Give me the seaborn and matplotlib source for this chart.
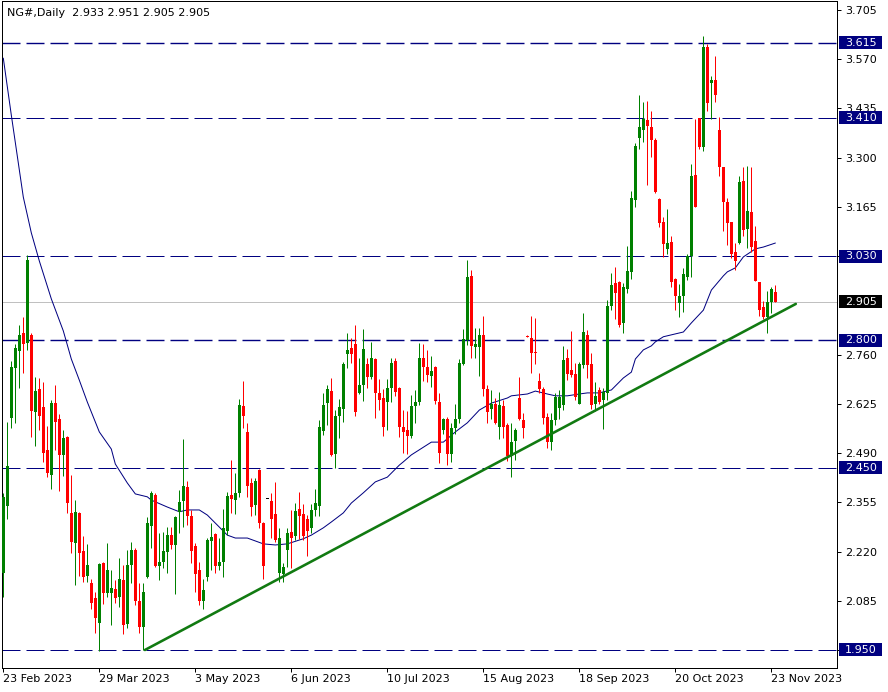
import numpy as np
import pandas as pd
import matplotlib
matplotlib.use('Agg')
import matplotlib.pyplot as plt
import matplotlib.transforms as mtransforms
from matplotlib.patches import Rectangle
import seaborn as sns

# Daily bars NG#, 23 Feb 2023 -> 24 Nov 2023
opens = [
    2.161, 2.345, 2.586, 2.723, 2.770, 2.819, 2.792, 2.814, 2.603, 2.666,
    2.616, 2.498, 2.430, 2.627, 2.583, 2.485, 2.534, 2.326, 2.243, 2.326,
    2.221, 2.153, 2.134, 2.093, 2.024, 2.189, 2.106, 2.106, 2.117, 2.095,
    2.142, 2.021, 2.183, 2.224, 2.084, 2.013, 2.150, 2.290, 2.375, 2.180,
    2.191, 2.219, 2.265, 2.238, 2.328, 2.359, 2.397, 2.317, 2.235, 2.169,
    2.084, 2.150, 2.249, 2.268, 2.180, 2.191, 2.276, 2.375, 2.361, 2.380,
    2.619, 2.548, 2.408, 2.348, 2.443, 2.298, 2.364, 2.359, 2.323, 2.161,
    2.158, 2.224, 2.274, 2.263, 2.337, 2.323, 2.309, 2.285, 2.334, 2.345,
    2.550, 2.627, 2.660, 2.487, 2.592, 2.611, 2.762, 2.778, 2.789, 2.655,
    2.677, 2.734, 2.699, 2.748, 2.655, 2.641, 2.630, 2.669, 2.742, 2.669,
    2.561, 2.553, 2.537, 2.619, 2.630, 2.751, 2.726, 2.701, 2.726, 2.630,
    2.553, 2.583, 2.487, 2.559, 2.583, 2.734, 2.800, 2.976, 2.781, 2.781,
    2.814, 2.666, 2.611, 2.625, 2.561, 2.619, 2.567, 2.482, 2.523, 2.641,
    2.581, 2.810, 2.806, 2.768, 2.688, 2.666, 2.589, 2.520, 2.581, 2.614,
    2.622, 2.751, 2.718, 2.707, 2.625, 2.731, 2.814, 2.734, 2.625, 2.663,
    2.636, 2.655, 2.893, 2.956, 2.959, 2.847, 2.940, 2.986, 3.184, 3.354,
    3.376, 3.403, 3.384, 3.349, 3.187, 3.124, 3.050, 3.069, 2.967, 2.901,
    2.921, 2.973, 3.030, 3.253, 3.409, 3.329, 3.604, 3.505, 3.513, 3.376,
    3.274, 3.178, 3.124, 3.041, 3.066, 3.236, 3.104, 3.151, 3.071, 2.959,
    2.890, 2.863, 2.904, 2.933,
]
highs = [
    2.381, 2.575, 2.742, 2.789, 2.841, 2.863, 3.033, 2.818, 2.699, 2.696,
    2.685, 2.564, 2.636, 2.677, 2.597, 2.553, 2.537, 2.430, 2.361, 2.328,
    2.263, 2.241, 2.145, 2.109, 2.189, 2.191, 2.243, 2.169, 2.142, 2.202,
    2.183, 2.224, 2.246, 2.230, 2.134, 2.134, 2.315, 2.386, 2.381, 2.271,
    2.274, 2.287, 2.287, 2.318, 2.389, 2.529, 2.413, 2.334, 2.243, 2.191,
    2.145, 2.257, 2.298, 2.271, 2.257, 2.337, 2.383, 2.471, 2.435, 2.638,
    2.688, 2.572, 2.422, 2.422, 2.446, 2.301, 2.364, 2.381, 2.411, 2.285,
    2.189, 2.285, 2.334, 2.353, 2.383, 2.350, 2.320, 2.350, 2.391, 2.581,
    2.655, 2.677, 2.696, 2.608, 2.638, 2.740, 2.819, 2.806, 2.841, 2.751,
    2.830, 2.751, 2.795, 2.751, 2.693, 2.666, 2.693, 2.751, 2.751, 2.672,
    2.608, 2.605, 2.649, 2.663, 2.792, 2.789, 2.773, 2.756, 2.729, 2.655,
    2.586, 2.589, 2.572, 2.625, 2.748, 2.830, 3.020, 2.992, 2.833, 2.833,
    2.866, 2.677, 2.663, 2.641, 2.658, 2.636, 2.572, 2.572, 2.559, 2.699,
    2.600, 2.814, 2.866, 2.860, 2.710, 2.671, 2.600, 2.600, 2.655, 2.663,
    2.784, 2.775, 2.825, 2.737, 2.740, 2.874, 2.828, 2.764, 2.685, 2.671,
    2.669, 2.910, 2.984, 3.000, 2.962, 2.956, 3.058, 3.209, 3.340, 3.472,
    3.453, 3.455, 3.428, 3.354, 3.189, 3.137, 3.159, 3.085, 2.970, 2.954,
    2.997, 3.036, 3.283, 3.406, 3.409, 3.634, 3.612, 3.524, 3.579, 3.412,
    3.274, 3.189, 3.124, 3.066, 3.250, 3.274, 3.277, 3.274, 3.113, 2.959,
    2.907, 2.934, 2.945, 2.951,
]
lows = [
    2.095, 2.309, 2.559, 2.572, 2.668, 2.709, 2.773, 2.534, 2.509, 2.553,
    2.465, 2.424, 2.391, 2.498, 2.386, 2.427, 2.326, 2.216, 2.128, 2.153,
    2.136, 2.136, 2.062, 1.997, 1.946, 2.076, 2.095, 2.019, 2.079, 2.068,
    1.994, 2.010, 2.134, 2.073, 1.997, 1.950, 2.147, 2.230, 2.178, 2.142,
    2.175, 2.161, 2.227, 2.103, 2.271, 2.287, 2.293, 2.189, 2.109, 2.073,
    2.062, 2.139, 2.169, 2.161, 2.169, 2.150, 2.265, 2.326, 2.323, 2.370,
    2.559, 2.370, 2.317, 2.320, 2.285, 2.145, 2.364, 2.257, 2.246, 2.136,
    2.136, 2.177, 2.175, 2.252, 2.254, 2.252, 2.208, 2.271, 2.317, 2.317,
    2.540, 2.567, 2.482, 2.449, 2.531, 2.575, 2.723, 2.737, 2.592, 2.652,
    2.633, 2.668, 2.693, 2.586, 2.608, 2.537, 2.553, 2.630, 2.647, 2.534,
    2.490, 2.487, 2.531, 2.572, 2.622, 2.688, 2.685, 2.671, 2.625, 2.463,
    2.542, 2.457, 2.465, 2.542, 2.572, 2.732, 2.786, 2.751, 2.751, 2.701,
    2.647, 2.572, 2.583, 2.570, 2.529, 2.531, 2.468, 2.424, 2.471, 2.581,
    2.531, 2.808, 2.709, 2.734, 2.655, 2.570, 2.504, 2.498, 2.567, 2.583,
    2.608, 2.690, 2.699, 2.636, 2.625, 2.723, 2.696, 2.611, 2.605, 2.625,
    2.556, 2.636, 2.882, 2.857, 2.836, 2.819, 2.929, 2.967, 3.165, 3.324,
    3.343, 3.225, 3.302, 3.203, 3.110, 3.027, 3.036, 2.945, 2.882, 2.863,
    2.877, 2.965, 2.973, 3.165, 3.324, 3.318, 3.428, 3.406, 3.453, 3.250,
    3.099, 3.060, 3.025, 2.992, 3.063, 3.085, 3.052, 3.041, 2.962, 2.866,
    2.857, 2.819, 2.874, 2.905,
]
closes = [
    2.370, 2.455, 2.726, 2.778, 2.814, 2.789, 3.020, 2.605, 2.660, 2.592,
    2.490, 2.435, 2.627, 2.575, 2.485, 2.531, 2.353, 2.246, 2.328, 2.216,
    2.150, 2.183, 2.079, 2.038, 2.186, 2.106, 2.169, 2.120, 2.093, 2.145,
    2.019, 2.183, 2.224, 2.084, 2.013, 2.109, 2.298, 2.381, 2.180, 2.191,
    2.221, 2.265, 2.238, 2.315, 2.356, 2.400, 2.317, 2.221, 2.158, 2.084,
    2.115, 2.252, 2.260, 2.180, 2.191, 2.285, 2.372, 2.364, 2.380, 2.622,
    2.592, 2.400, 2.342, 2.413, 2.298, 2.180, 2.364, 2.309, 2.252, 2.257,
    2.177, 2.271, 2.257, 2.331, 2.317, 2.263, 2.276, 2.334, 2.353, 2.561,
    2.622, 2.666, 2.485, 2.592, 2.616, 2.734, 2.773, 2.762, 2.603, 2.677,
    2.775, 2.699, 2.751, 2.655, 2.636, 2.561, 2.669, 2.737, 2.658, 2.561,
    2.548, 2.537, 2.619, 2.630, 2.751, 2.726, 2.704, 2.715, 2.633, 2.490,
    2.583, 2.487, 2.559, 2.583, 2.737, 2.803, 2.973, 2.784, 2.789, 2.814,
    2.666, 2.603, 2.625, 2.572, 2.622, 2.561, 2.482, 2.520, 2.553, 2.583,
    2.559, 2.808, 2.765, 2.765, 2.666, 2.586, 2.520, 2.581, 2.644, 2.644,
    2.745, 2.707, 2.704, 2.644, 2.734, 2.822, 2.731, 2.622, 2.647, 2.630,
    2.658, 2.893, 2.951, 2.929, 2.841, 2.945, 2.989, 3.189, 3.332, 3.384,
    3.406, 3.387, 3.349, 3.206, 3.121, 3.063, 3.066, 2.959, 2.921, 2.921,
    2.981, 3.030, 3.250, 3.165, 3.329, 3.604, 3.450, 3.513, 3.472, 3.274,
    3.178, 3.121, 3.036, 3.017, 3.233, 3.102, 3.154, 3.055, 2.962, 2.882,
    2.863, 2.904, 2.940, 2.905,
]

# moving average (blue line), sampled along the bars
ma_bars = [0, 2, 5, 7, 9, 12, 15, 17, 19, 21, 24, 27, 28, 31, 33, 36, 37, 41,
           44, 46, 49, 51, 54, 56, 58, 61, 65, 68, 71, 75, 77, 80, 82, 85, 87,
           90, 93, 96, 99, 100, 102, 107, 110, 113, 116, 119, 122, 126, 127,
           131, 133, 136, 138, 141, 144, 146, 149, 150, 152, 155, 157, 158,
           160, 162, 163, 165, 170, 172, 175, 177, 180, 181, 183, 185, 188,
           190, 193]
ma_values = [3.573, 3.417, 3.192, 3.094, 3.017, 2.913, 2.825, 2.748, 2.690,
             2.630, 2.548, 2.501, 2.460, 2.408, 2.378, 2.370, 2.361, 2.342,
             2.329, 2.334, 2.334, 2.320, 2.287, 2.265, 2.257, 2.257, 2.241,
             2.238, 2.241, 2.255, 2.265, 2.285, 2.301, 2.326, 2.353, 2.381,
             2.411, 2.424, 2.457, 2.466, 2.485, 2.520, 2.520, 2.548, 2.573,
             2.608, 2.627, 2.641, 2.647, 2.652, 2.660, 2.652, 2.647, 2.647,
             2.652, 2.655, 2.655, 2.658, 2.663, 2.696, 2.712, 2.748, 2.773,
             2.784, 2.795, 2.809, 2.822, 2.847, 2.882, 2.937, 2.976, 2.987,
             2.998, 3.028, 3.050, 3.055, 3.066]

# support trend line
trend_bars = [35.4, 198.1]
trend_values = [1.950, 2.899]

levels = [3.615, 3.410, 3.030, 2.800, 2.450, 1.950]
last_price = 2.905
price_ticks = [3.705, 3.570, 3.435, 3.300, 3.165, 3.030, 2.760, 2.625,
               2.490, 2.355, 2.220, 2.085, 1.950]
date_ticks = [0, 24, 48, 72, 96, 120, 144, 168, 192]
date_labels = ['23 Feb 2023', '29 Mar 2023', '3 May 2023', '6 Jun 2023',
               '10 Jul 2023', '15 Aug 2023', '18 Sep 2023', '20 Oct 2023',
               '23 Nov 2023']
title = 'NG#,Daily  2.933 2.951 2.905 2.905'

sns.set_style('white')
plt.rcParams['font.family'] = ['DejaVu Sans']
plt.rcParams['lines.scale_dashes'] = False

W, H = 888, 692
px = 72 / 100  # one pixel in points
fig = plt.figure(figsize=(W / 100, H / 100), dpi=100)
ax = fig.add_axes([2 / W, (H - 668) / H, 835 / W, 667 / H])

df = pd.DataFrame({'open': opens, 'high': highs, 'low': lows, 'close': closes})
df['bar'] = np.arange(len(df))
colors = np.where(df['close'] > df['open'], '#008000',
                  np.where(df['close'] < df['open'], '#ff0000', '#000000'))

# horizontal levels
for lv in levels:
    lw = 1.4 * px if lv in (3.615, 2.800) else px
    ax.axhline(lv, color='#000080', lw=lw, dashes=(18 * px, 6 * px), zorder=1)
ax.axhline(last_price, color='#c0c0c0', lw=px, zorder=1)

# moving average and trend line
sns.lineplot(x=ma_bars, y=ma_values, ax=ax, color='#000080', lw=px, zorder=2)
sns.lineplot(x=trend_bars, y=trend_values, ax=ax, color='#117a11',
             lw=2.6 * px, zorder=5)

# candles
ax.vlines(df['bar'], df['low'], df['high'], colors=colors, lw=px, zorder=3)
body_bottom = df[['open', 'close']].min(axis=1)
body_h = (df['close'] - df['open']).abs().clip(lower=0.0028)
ax.bar(df['bar'], body_h, bottom=body_bottom, width=0.75, color=colors,
       lw=0, zorder=4)

ax.set_xlim(-0.325, 208.4)
ax.set_ylim(1.9006, 3.7297)
ax.set_xlabel('')
ax.set_ylabel('')

# axes look
for s in ax.spines.values():
    s.set_color('black')
    s.set_linewidth(px)
ax.yaxis.tick_right()
ax.set_yticks(price_ticks)
ax.set_yticklabels(['%.3f' % v for v in price_ticks])
ax.tick_params(axis='y', direction='out', length=3, width=px, pad=3,
               labelsize=8, colors='black', right=True, left=False)
ax.set_xticks(date_ticks)
ax.set_xticklabels(date_labels)
ax.tick_params(axis='x', direction='out', length=3, width=px, pad=1.5,
               labelsize=8, colors='black', bottom=True)
for lab in ax.get_xticklabels():
    lab.set_ha('left')

# price boxes on the right axis
k = (3.7297 - 1.9006) / 667
bx = mtransforms.blended_transform_factory(fig.transFigure, ax.transData)
for lv, fc in [(v, '#000080') for v in levels] + [(last_price, '#000000')]:
    ax.add_patch(Rectangle((839 / W, lv - 6.5 * k), 43 / W, 13 * k,
                           transform=bx, facecolor=fc, edgecolor='none',
                           clip_on=False, zorder=10))
    ax.text(845 / W, lv, '%.3f' % lv, transform=bx, color='white',
            fontsize=8, va='center', ha='left', zorder=11, clip_on=False)

fig.text(7 / W, 1 - 13 / H, title, fontsize=8, va='center', ha='left',
         color='black')

fig.savefig('out.png', dpi=100)
